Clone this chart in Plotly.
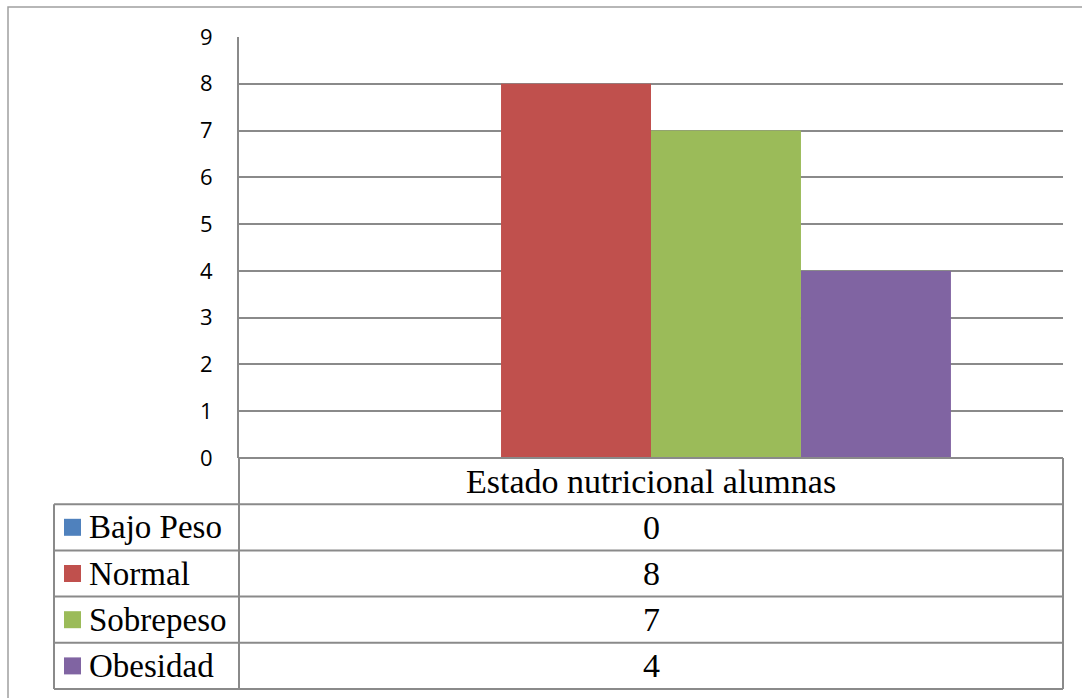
import plotly.graph_objects as go

# ---- data ----
category = ["Estado nutricional alumnas"]
series_names = ["Bajo Peso", "Normal", "Sobrepeso", "Obesidad"]
series_values = [0, 8, 7, 4]
series_colors = ["#4F81BD", "#C0504D", "#9BBB59", "#8064A2"]
y_ticks = [0, 1, 2, 3, 4, 5, 6, 7, 8, 9]

# ---- geometry (pixels) ----
W, H = 1082, 698
L, R, T, B = 239, 19, 37, 240
PW, PH = W - L - R, H - T - B
ROW_H = 46.2
LEG_LEFT = 54
GRID = "#8a8a8a"
SERIF = "Liberation Serif"


def px(x):
    return (x - L) / PW


def py(y):
    return (T + PH - y) / PH


fig = go.Figure()
for name, val, col in zip(series_names, series_values, series_colors):
    fig.add_trace(go.Bar(x=category, y=[val], name=name, marker_color=col,
                         marker_line_width=0, showlegend=False))

shapes = []
annotations = []
n = len(series_names)
table_top = T + PH
table_bottom = table_top + ROW_H * (n + 1)
right = L + PW

line = dict(color=GRID, width=2)
# header row top/bottom
shapes.append(dict(type="line", xref="paper", yref="paper", x0=px(L), x1=px(right),
                   y0=py(table_top), y1=py(table_top), line=line))
for i in range(1, n + 2):
    yy = table_top + ROW_H * i
    shapes.append(dict(type="line", xref="paper", yref="paper", x0=px(LEG_LEFT), x1=px(right),
                       y0=py(yy), y1=py(yy), line=line))
# verticals
shapes.append(dict(type="line", xref="paper", yref="paper", x0=px(LEG_LEFT), x1=px(LEG_LEFT),
                   y0=py(table_top + ROW_H), y1=py(table_bottom), line=line))
for xx in (L, right):
    shapes.append(dict(type="line", xref="paper", yref="paper", x0=px(xx), x1=px(xx),
                       y0=py(table_top), y1=py(table_bottom), line=line))

# header text
annotations.append(dict(xref="paper", yref="paper", x=0.5, y=py(table_top + ROW_H / 2),
                        text=category[0], showarrow=False,
                        font=dict(family=SERIF, size=34, color="#000000"),
                        xanchor="center", yanchor="middle"))
for i, (name, val, col) in enumerate(zip(series_names, series_values, series_colors)):
    yc = table_top + ROW_H * (i + 1.5)
    annotations.append(dict(xref="paper", yref="paper", x=0.5, y=py(yc), text=str(val),
                            showarrow=False, font=dict(family=SERIF, size=34, color="#000000"),
                            xanchor="center", yanchor="middle"))
    annotations.append(dict(xref="paper", yref="paper", x=px(87), y=py(yc), text=name,
                            showarrow=False, font=dict(family=SERIF, size=33, color="#000000"),
                            xanchor="left", yanchor="middle"))
    shapes.append(dict(type="rect", xref="paper", yref="paper", x0=px(64), x1=px(81),
                       y0=py(yc - 8.5), y1=py(yc + 8.5), fillcolor=col, line=dict(width=0)))

# outer chart border
shapes.append(dict(type="rect", xref="paper", yref="paper", x0=px(8), x1=px(W + 20),
                   y0=py(7), y1=py(H + 20), line=dict(color="#a0a0a0", width=1.5),
                   fillcolor="rgba(0,0,0,0)", layer="below"))

fig.update_layout(
    width=W, height=H,
    margin=dict(l=L, r=R, t=T, b=B, pad=0),
    paper_bgcolor="white", plot_bgcolor="white",
    barmode="group", bargap=0.272, bargroupgap=0,
    shapes=shapes, annotations=annotations,
    xaxis=dict(showticklabels=False, showgrid=False, zeroline=False, showline=False, ticks=""),
    yaxis=dict(range=[0, 9], tickvals=y_ticks, showgrid=True, gridcolor=GRID, gridwidth=2,
               zeroline=False, showline=True, linecolor=GRID, linewidth=2, ticks="",
               tickfont=dict(family="Open Sans", size=22, color="#000000"),
               ticklabelstandoff=20),
)

fig.write_html("out.html")
